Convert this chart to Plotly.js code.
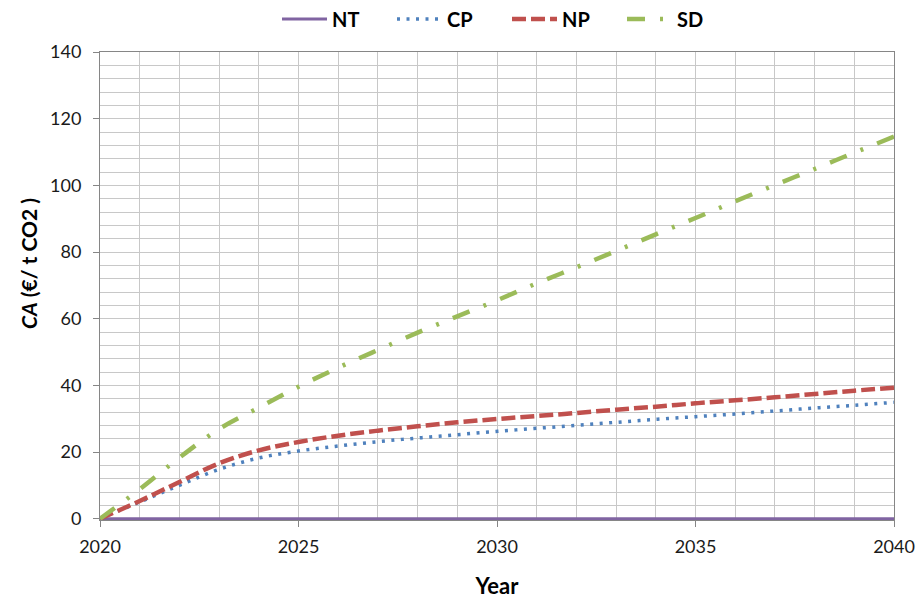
<!DOCTYPE html>
<html>
<head>
<meta charset="utf-8">
<script src="https://cdn.plot.ly/plotly-3.0.1.min.js"></script>
<style>html,body{margin:0;padding:0;background:#fff;}#chart{width:920px;height:599px;}</style>
</head>
<body>
<div id="chart"></div>
<script>
const years = [2020,2021,2022,2023,2024,2025,2026,2027,2028,2029,2030,2031,2032,2033,2034,2035,2036,2037,2038,2039,2040];
const NT = [0,0,0,0,0,0,0,0,0,0,0,0,0,0,0,0,0,0,0,0,0];
const CP = [0,5.0,10.0,14.8,18.2,20.3,21.8,23.1,24.2,25.2,26.2,27.1,28.0,28.9,29.8,30.6,31.4,32.3,33.2,34.0,34.9];
const NP = [0,5.3,11.0,16.6,20.5,23.0,24.9,26.4,27.7,28.9,29.9,30.8,31.7,32.7,33.6,34.6,35.5,36.4,37.4,38.4,39.3];
const SD = [0,8.8,18.3,26.9,33.3,39.6,45.3,50.6,55.8,60.7,65.5,70.6,75.4,80.3,85.3,90.2,95.2,100.1,104.9,109.8,114.6];
const seriesNames = ['NT','CP','NP','SD'];
const yTitle = '<i>CA</i> (€/ t CO2 )';
const xTitle = 'Year';

const font = "Lato, 'Open Sans', sans-serif";
const txt = '#1a1a1a';
const traces = [
  {x: years, y: NT, name: seriesNames[0], mode: 'lines', line: {color: '#8064A2', width: 3}},
  {x: years, y: CP, name: seriesNames[1], mode: 'lines', line: {color: '#4F81BD', width: 3.5, dash: '3px,6.5px', shape: 'spline'}},
  {x: years, y: NP, name: seriesNames[2], mode: 'lines', line: {color: '#C0504D', width: 4.5, dash: '14px,5px', shape: 'spline'}},
  {x: years, y: SD, name: seriesNames[3], mode: 'lines', line: {color: '#9BBB59', width: 4.5, dash: '18px,15px,3px,15px', shape: 'spline'}}
];

const layout = {
  width: 920, height: 599,
  margin: {l: 100, r: 26, t: 52, b: 79, autoexpand: false},
  paper_bgcolor: '#fff', plot_bgcolor: '#fff',
  font: {family: font, size: 18, color: txt},
  showlegend: true,
  legend: {orientation: 'h', x: 0.5126, xanchor: 'center', y: 1.0705, yanchor: 'middle',
           font: {family: font, size: 20, color: '#000', weight: 'bold'},
           entrywidth: 55, entrywidthmode: 'pixels', itemwidth: 45},
  xaxis: {
    range: [2020, 2040], dtick: 5, tick0: 2020,
    showgrid: true, gridcolor: '#c8c8c8', gridwidth: 1,
    minor: {dtick: 1, showgrid: true, gridcolor: '#c8c8c8', gridwidth: 1},
    showline: true, linecolor: '#868686', linewidth: 1, mirror: true,
    ticks: 'outside', ticklen: 6, tickcolor: '#868686',
    ticklabelstandoff: 4,
    zeroline: false,
    tickfont: {family: font, size: 18, color: txt},
    title: {text: xTitle, font: {family: font, size: 22, color: '#000', weight: 'bold'}, standoff: 25}
  },
  yaxis: {
    range: [-0.4, 140], dtick: 20, tick0: 0,
    showgrid: true, gridcolor: '#c8c8c8', gridwidth: 1,
    minor: {dtick: 4, showgrid: true, gridcolor: '#c8c8c8', gridwidth: 1},
    showline: true, linecolor: '#868686', linewidth: 1, mirror: true,
    ticks: 'outside', ticklen: 6, tickcolor: '#868686',
    ticklabelstandoff: 8,
    zeroline: false,
    tickfont: {family: font, size: 18, color: txt}
  },
  annotations: [{
    text: yTitle, xref: 'paper', yref: 'paper',
    x: -0.0907, y: 0.549, xanchor: 'center', yanchor: 'middle',
    textangle: -90, showarrow: false,
    font: {family: font, size: 21, color: '#000', weight: 'bold'}
  }]
};

Plotly.newPlot('chart', traces, layout, {displayModeBar: false, staticPlot: true});
</script>
</body>
</html>
